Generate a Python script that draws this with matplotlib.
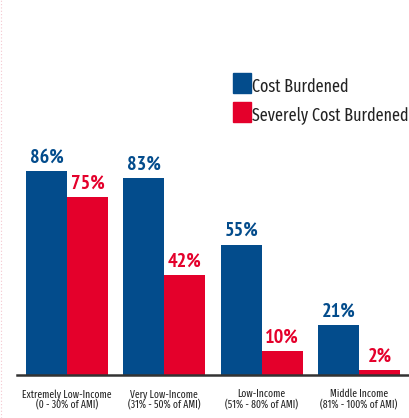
import matplotlib
matplotlib.use("Agg")
import matplotlib.pyplot as plt
from matplotlib.patches import Rectangle
import numpy as np

categories = ["Extremely Low-Income\n(0 - 30% of AMI)", "Very Low-Income\n(31% - 50% of AMI)",
              "Low-Income\n(51% - 80% of AMI)", "Middle Income\n(81% - 100% of AMI)"]
cost_burdened = [86, 83, 55, 21]
severely_burdened = [75, 42, 10, 2]
series_names = ["Cost Burdened", "Severely Cost Burdened"]

BLUE = "#034C8C"
RED = "#E4002B"
FONT = ["PT Sans Narrow", "DejaVu Sans"]
FONT2 = ["Fira Sans Extra Condensed", "PT Sans Narrow", "DejaVu Sans"]

W, H = 409, 418
fig = plt.figure(figsize=(W / 100, H / 100), dpi=100)
ax = fig.add_axes([17 / W, (H - 375) / H, 392 / W, 237 / H])
x = np.arange(len(categories))
bw = 0.42
ax.bar(x - bw / 2, cost_burdened, bw, color=BLUE)
ax.bar(x + bw / 2, severely_burdened, bw, color=RED)
ax.set_xlim(-0.513, 3.513)
ax.set_ylim(0, 100)
for xi, v in zip(x, cost_burdened):
    ax.annotate(f"{v}%", (xi - bw / 2, v), xytext=(0, 3.5), textcoords="offset points",
                ha="center", va="bottom", color=BLUE, fontsize=14.5, fontweight="bold", family=FONT)
for xi, v in zip(x, severely_burdened):
    ax.annotate(f"{v}%", (xi + bw / 2, v), xytext=(0, 3.5), textcoords="offset points",
                ha="center", va="bottom", color=RED, fontsize=14.5, fontweight="bold", family=FONT)
for s in ["top", "right", "left"]:
    ax.spines[s].set_visible(False)
ax.spines["bottom"].set_color("#333333")
ax.spines["bottom"].set_linewidth(1.8)
ax.set_yticks([])
ax.set_xticks(x)
ax.set_xticklabels(categories, fontsize=7.5, family=FONT2, color="#222222", linespacing=1.0)
ax.tick_params(axis="x", length=0, pad=10)

# legend
for i, (name, col) in enumerate(zip(series_names, [BLUE, RED])):
    y0 = 73 + i * 29
    fig.patches.append(Rectangle((233 / W, 1 - (y0 + 20) / H), 18 / W, 20 / H,
                                 transform=fig.transFigure, color=col))
    fig.text(252 / W, 1 - (y0 + 19) / H, name, fontsize=12.6, family=FONT2,
             color="#222222", va="baseline", ha="left")

# faint dotted left border
fig.add_artist(plt.Line2D([0.5 / W, 0.5 / W], [0, 1], transform=fig.transFigure,
                          color="#f4c6cf", lw=0.8, ls=(0, (1, 2))))

fig.savefig("out.png", dpi=100)
